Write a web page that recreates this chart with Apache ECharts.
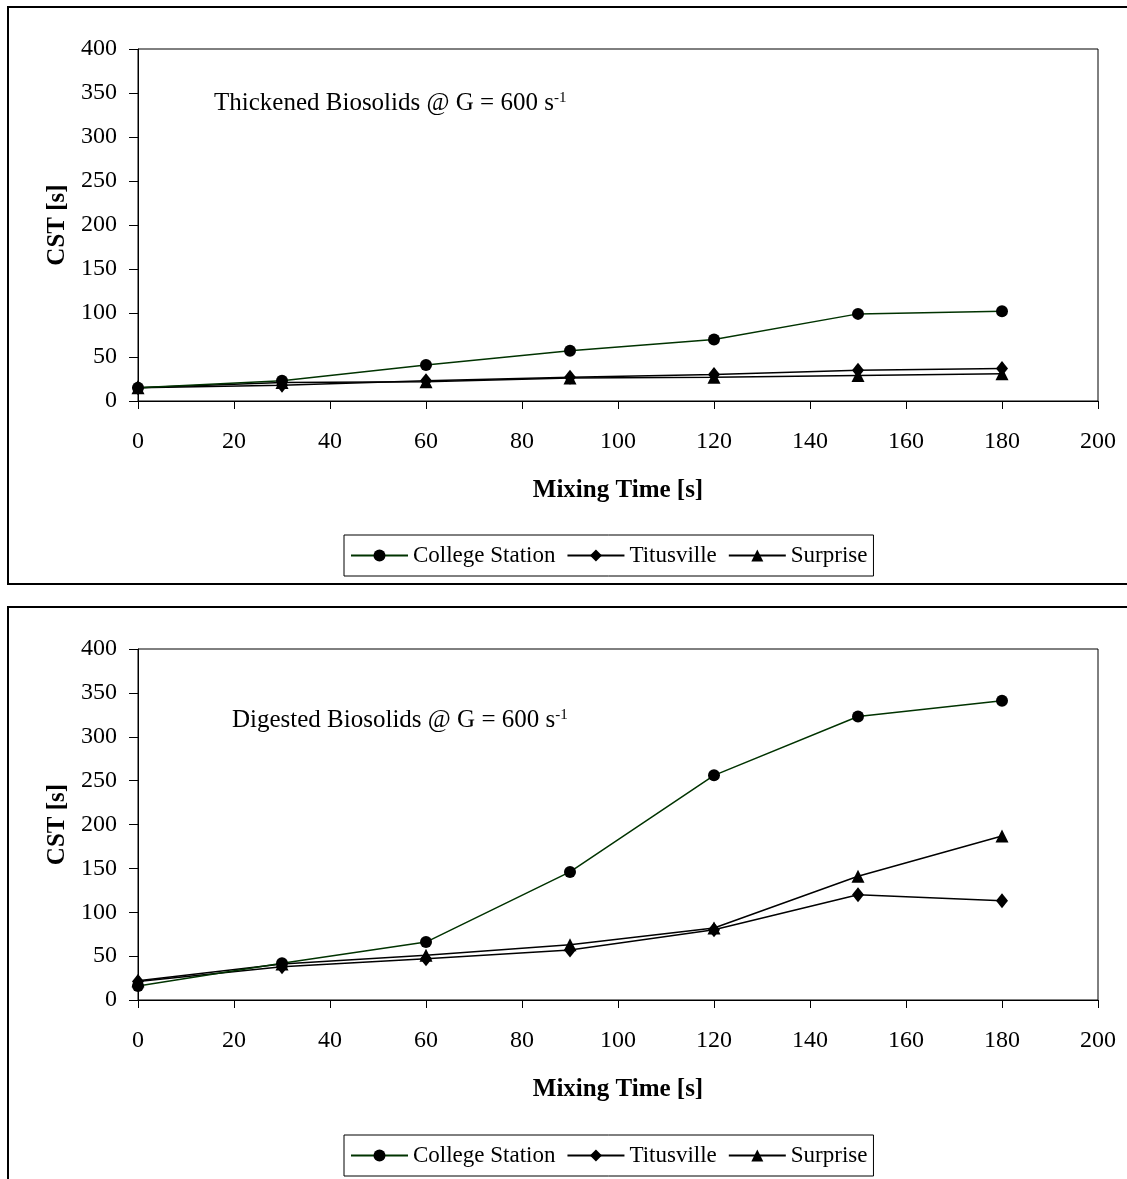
<!DOCTYPE html>
<html>
<head>
<meta charset="utf-8">
<title>CST vs Mixing Time</title>
<script src="https://cdn.jsdelivr.net/npm/echarts@6/dist/echarts.min.js"></script>
<style>
  html, body { margin: 0; padding: 0; background: #fff; }
  #chart { width: 1127px; height: 1179px; }
</style>
</head>
<body>
<div id="chart"></div>
<script>
// Mixing times (s) at which CST was measured
const mixingTimes = [0, 30, 60, 90, 120, 150, 180];

// Thickened biosolids, G = 600 s^-1
const thickCollegeStation = [15, 23, 41, 57, 70, 99, 102];
const thickTitusville     = [15, 18, 23, 27, 30, 35, 37];
const thickSurprise       = [15, 21, 22, 26, 27, 29, 31];

// Digested biosolids, G = 600 s^-1
const digCollegeStation = [16, 42, 66, 146, 256, 323, 341];
const digTitusville     = [21, 38, 47, 57, 80, 120, 113];
const digSurprise       = [22, 41, 51, 63, 82, 141, 187];

const seriesNames = ['College Station', 'Titusville', 'Surprise'];
const panelTitles = ['Thickened Biosolids @ G = 600 s', 'Digested Biosolids @ G = 600 s'];
const xName = 'Mixing Time [s]';
const yName = 'CST [s]';

const FONT = '"Liberation Serif", "Times New Roman", serif';
const GREEN = '#003300';

const pairs = (vals) => mixingTimes.map((t, i) => [t, vals[i]]);

const panels = [
  { top: 49, height: 352, data: [thickCollegeStation, thickTitusville, thickSurprise], legendTop: 535, titleTop: 91, titleLeft: 214 },
  { top: 649, height: 351, data: [digCollegeStation, digTitusville, digSurprise], legendTop: 1135, titleTop: 708, titleLeft: 232 }
];

const symbols = [
  { symbol: 'circle', size: 12, color: GREEN },
  { symbol: 'diamond', size: [12, 15], color: '#000' },
  { symbol: 'triangle', size: 13, color: '#000' }
];

const grids = [], xAxes = [], yAxes = [], series = [], legends = [], graphics = [];

panels.forEach((p, gi) => {
  grids.push({
    left: 138, top: p.top, width: 960, height: p.height,
    show: true, borderColor: '#000', borderWidth: 1, backgroundColor: 'transparent'
  });
  xAxes.push({
    type: 'value', gridIndex: gi, min: 0, max: 200, interval: 20,
    name: xName, nameLocation: 'middle', nameGap: 77,
    nameTextStyle: { fontFamily: FONT, fontSize: 25, fontWeight: 'bold', color: '#000' },
    axisLine: { show: true, onZero: false, lineStyle: { color: '#000', width: 1 } },
    axisTick: { show: true, inside: false, length: 8, lineStyle: { color: '#000' } },
    axisLabel: { margin: 29, fontFamily: FONT, fontSize: 24, color: '#000' },
    splitLine: { show: false }
  });
  yAxes.push({
    type: 'value', gridIndex: gi, min: 0, max: 400, interval: 50,
    name: yName, nameLocation: 'middle', nameGap: 66, nameRotate: 90,
    nameTextStyle: { fontFamily: FONT, fontSize: 25, fontWeight: 'bold', color: '#000' },
    axisLine: { show: true, onZero: false, lineStyle: { color: '#000', width: 1 } },
    axisTick: { show: true, inside: false, length: 9, lineStyle: { color: '#000' } },
    axisLabel: { margin: 21, fontFamily: FONT, fontSize: 24, color: '#000' },
    splitLine: { show: false }
  });
  p.data.forEach((vals, si) => {
    const s = symbols[si];
    series.push({
      name: seriesNames[si], type: 'line', xAxisIndex: gi, yAxisIndex: gi,
      data: pairs(vals),
      symbol: s.symbol, symbolSize: s.size, showAllSymbol: true,
      lineStyle: { color: s.color, width: 1.5 },
      itemStyle: { color: '#000', borderColor: '#000', borderWidth: 0 },
      emphasis: { disabled: true },
      animation: false, z: 3 - si
    });
  });
  legends.push({
    data: seriesNames, left: 344, top: p.legendTop,
    orient: 'horizontal', padding: [9, 6], itemGap: 11,
    itemWidth: 57, itemHeight: 15,
    borderColor: '#000', borderWidth: 1, backgroundColor: '#fff',
    textStyle: { fontFamily: FONT, fontSize: 23, color: '#000' },
    selectedMode: false
  });
  graphics.push({
    type: 'text', left: p.titleLeft, top: p.titleTop, z: 10,
    style: {
      text: panelTitles[gi] + '{sup|-1}',
      fontFamily: FONT, fontSize: 25, fill: '#000',
      rich: { sup: { fontFamily: FONT, fontSize: 15, verticalAlign: 'top', lineHeight: 12 } }
    }
  });
});

// Outer frames around each panel
graphics.push({ type: 'rect', shape: { x: 8, y: 7, width: 1140, height: 577 }, style: { fill: 'none', stroke: '#000', lineWidth: 2 }, silent: true });
graphics.push({ type: 'rect', shape: { x: 8, y: 607, width: 1140, height: 600 }, style: { fill: 'none', stroke: '#000', lineWidth: 2 }, silent: true });

const chart = echarts.init(document.getElementById('chart'), null, { renderer: 'canvas' });
chart.setOption({
  animation: false,
  backgroundColor: '#fff',
  grid: grids, xAxis: xAxes, yAxis: yAxes,
  legend: legends, series: series, graphic: graphics
});
</script>
</body>
</html>
